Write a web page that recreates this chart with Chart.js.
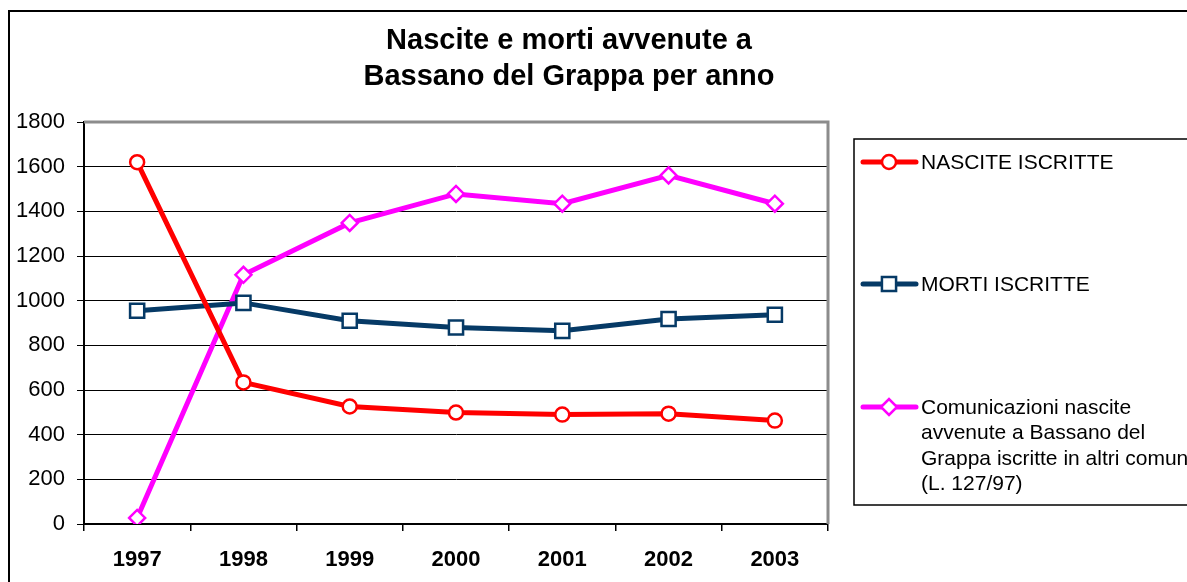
<!DOCTYPE html>
<html>
<head>
<meta charset="utf-8">
<script src="https://cdn.jsdelivr.net/npm/chart.js@4"></script>
<style>
  html, body { margin: 0; padding: 0; background: #fff; }
  #wrap { width: 1187px; height: 582px; }
</style>
</head>
<body>
<div id="wrap"><canvas id="ctx_chart"></canvas></div>
<script>
const years = ['1997', '1998', '1999', '2000', '2001', '2002', '2003'];
const nascite = [1620, 634, 526, 499, 490, 494, 463];
const morti = [955, 990, 910, 880, 865, 918, 937];
const comunicazioni = [27, 1116, 1348, 1478, 1434, 1561, 1434];
const yTicks = [0, 200, 400, 600, 800, 1000, 1200, 1400, 1600, 1800];

const titleLines = ['Nascite e morti avvenute a', 'Bassano del Grappa per anno'];
const legendLabels = [
    ['NASCITE ISCRITTE'],
    ['MORTI ISCRITTE'],
    ['Comunicazioni nascite', 'avvenute a Bassano del', 'Grappa iscritte in altri comuni', '(L. 127/97)']
];

const FONT = '"Liberation Sans", Arial, sans-serif';

// frame, title, plot border and the boxed legend
const decorations = {
    id: 'decorations',
    beforeDraw(chart) {
        const c = chart.ctx;
        c.save();
        c.fillStyle = '#fff';
        c.fillRect(0, 0, chart.width, chart.height);
        c.strokeStyle = '#000';
        c.lineWidth = 2;
        c.beginPath();
        c.moveTo(9, chart.height);
        c.lineTo(9, 11);
        c.lineTo(chart.width, 11);
        c.stroke();
        c.restore();
    },
    afterDraw(chart) {
        const c = chart.ctx;
        const a = chart.chartArea;
        c.save();
        // title
        c.fillStyle = '#000';
        c.font = 'bold 29px ' + FONT;
        c.textAlign = 'center';
        c.textBaseline = 'middle';
        titleLines.forEach((t, i) => c.fillText(t, 569, 41 + i * 36));

        // plot border (grey top / right)
        c.strokeStyle = '#8c8c8c';
        c.lineWidth = 3;
        c.beginPath();
        c.moveTo(a.left, a.top);
        c.lineTo(a.right, a.top);
        c.lineTo(a.right, a.bottom);
        c.stroke();

        // legend box
        c.strokeStyle = '#000';
        c.lineWidth = 1.5;
        c.strokeRect(854, 139, 400, 366);

        const rows = [162, 284, 407];
        c.font = '21px ' + FONT;
        c.textAlign = 'left';
        chart.data.datasets.forEach((ds, i) => {
            const y = rows[i];
            c.strokeStyle = ds.borderColor;
            c.lineWidth = 5;
            c.lineCap = 'round';
            c.beginPath();
            c.moveTo(863, y);
            c.lineTo(916, y);
            c.stroke();
            c.fillStyle = '#fff';
            c.lineWidth = ds.pointBorderWidth;
            Chart.helpers.drawPoint(c, {
                pointStyle: ds.pointStyle,
                radius: ds.pointRadius,
                borderWidth: ds.pointBorderWidth
            }, 889, y);
            c.fillStyle = '#000';
            legendLabels[i].forEach((t, j) => c.fillText(t, 921, y + 1 + j * 25.5));
        });
        c.restore();
    }
};

new Chart(document.getElementById('ctx_chart'), {
    type: 'line',
    data: {
        labels: years,
        datasets: [{
            label: 'NASCITE ISCRITTE',
            data: nascite,
            borderColor: '#ff0000',
            borderWidth: 5,
            pointStyle: 'circle',
            pointRadius: 7,
            pointBorderWidth: 2.5,
            pointBackgroundColor: '#fff',
            pointBorderColor: '#ff0000'
        }, {
            label: 'MORTI ISCRITTE',
            data: morti,
            borderColor: '#063a66',
            borderWidth: 5,
            pointStyle: 'rect',
            pointRadius: 10,
            pointBorderWidth: 2.5,
            pointBackgroundColor: '#fff',
            pointBorderColor: '#063a66'
        }, {
            label: 'Comunicazioni nascite avvenute a Bassano del Grappa iscritte in altri comuni (L. 127/97)',
            data: comunicazioni,
            borderColor: '#ff00ff',
            borderWidth: 5,
            pointStyle: 'rectRot',
            pointRadius: 8,
            pointBorderWidth: 2.5,
            pointBackgroundColor: '#fff',
            pointBorderColor: '#ff00ff'
        }]
    },
    options: {
        responsive: true,
        maintainAspectRatio: false,
        animation: false,
        layout: {
            padding: { left: 10, right: 359, top: 122, bottom: 0 }
        },
        scales: {
            x: {
                offset: true,
                border: { display: true, color: '#000', width: 2 },
                grid: {
                    display: true,
                    offset: true,
                    drawOnChartArea: false,
                    drawTicks: true,
                    tickLength: 7,
                    color: '#000',
                    lineWidth: 1.5
                },
                ticks: {
                    color: '#000',
                    padding: 16,
                    font: { family: FONT, size: 22, weight: 'bold' }
                },
                afterFit(scale) { scale.height = 58; }
            },
            y: {
                min: 0,
                max: 1800,
                afterBuildTicks(scale) {
                    scale.ticks = yTicks.map(v => ({ value: v }));
                },
                border: { display: true, color: '#000', width: 2 },
                grid: {
                    display: true,
                    drawTicks: true,
                    tickLength: 7,
                    color: '#000',
                    lineWidth: 1
                },
                ticks: {
                    color: '#000',
                    padding: 12,
                    font: { family: FONT, size: 22 },
                    callback: v => String(v)
                },
                afterFit(scale) { scale.width = 74; }
            }
        },
        plugins: {
            legend: { display: false },
            title: { display: false },
            tooltip: { enabled: false }
        }
    },
    plugins: [decorations]
});
</script>
</body>
</html>
